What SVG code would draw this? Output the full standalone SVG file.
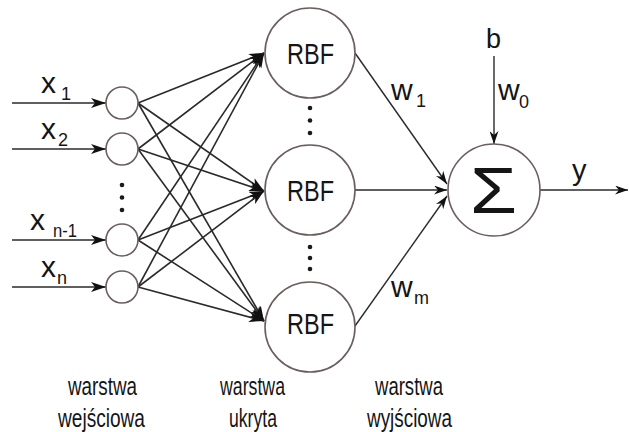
<svg xmlns="http://www.w3.org/2000/svg" width="629" height="432" viewBox="0 0 629 432">
  <style>
    .node { fill: #ffffff; stroke: #6a5e5e; stroke-width: 1.6; }
    .wire { stroke: #2a2a2a; stroke-width: 1.6; fill: none; }
    .lbl { font-family: "Liberation Sans", Arial, sans-serif; fill: #151515; }
    .dot { fill: #1a1a1a; }
  </style>
  <defs>
    <marker id="head" markerUnits="userSpaceOnUse" markerWidth="15" markerHeight="10" refX="15" refY="5" orient="auto">
      <path d="M0,0 L15,5 L0,10 L4,5 z" fill="#111"/>
    </marker>
    <marker id="headThin" markerUnits="userSpaceOnUse" markerWidth="13" markerHeight="9" refX="13" refY="4.5" orient="auto">
      <path d="M0,0 L13,4.5 L0,9 L4,4.5 z" fill="#111"/>
    </marker>
  </defs>

  <rect width="629" height="432" fill="#ffffff"/>

  <!-- connectors -->
  <g id="connectors" class="wire">
    <!-- inputs into the input layer -->
    <line x1="12" y1="103" x2="106" y2="103" marker-end="url(#head)"/>
    <line x1="12" y1="149" x2="106" y2="149" marker-end="url(#head)"/>
    <line x1="12" y1="240" x2="106" y2="240" marker-end="url(#head)"/>
    <line x1="12" y1="287" x2="106" y2="287" marker-end="url(#head)"/>
    <!-- input layer to hidden layer (full mesh) -->
    <line x1="138" y1="103" x2="264" y2="53" marker-end="url(#head)"/>
    <line x1="138" y1="103" x2="264" y2="191" marker-end="url(#head)"/>
    <line x1="138" y1="103" x2="264" y2="321" marker-end="url(#head)"/>
    <line x1="138" y1="149" x2="264" y2="53" marker-end="url(#head)"/>
    <line x1="138" y1="149" x2="264" y2="191" marker-end="url(#head)"/>
    <line x1="138" y1="149" x2="264" y2="321" marker-end="url(#head)"/>
    <line x1="138" y1="240" x2="264" y2="53" marker-end="url(#head)"/>
    <line x1="138" y1="240" x2="264" y2="191" marker-end="url(#head)"/>
    <line x1="138" y1="240" x2="264" y2="321" marker-end="url(#head)"/>
    <line x1="138" y1="287" x2="264" y2="53" marker-end="url(#head)"/>
    <line x1="138" y1="287" x2="264" y2="191" marker-end="url(#head)"/>
    <line x1="138" y1="287" x2="264" y2="321" marker-end="url(#head)"/>
    <!-- hidden layer to output sum -->
    <line x1="355" y1="53" x2="447" y2="184" stroke-width="1.4" marker-end="url(#headThin)"/>
    <line x1="355" y1="190" x2="447" y2="190" stroke-width="1.4" marker-end="url(#headThin)"/>
    <line x1="355" y1="326" x2="447" y2="196" stroke-width="1.4" marker-end="url(#headThin)"/>
    <!-- bias -->
    <line x1="494" y1="56" x2="494" y2="144" stroke-width="1.4" marker-end="url(#headThin)"/>
    <!-- output -->
    <line x1="540" y1="190" x2="628" y2="190" stroke-width="1.4" marker-end="url(#headThin)"/>
  </g>

  <!-- input layer -->
  <g id="in1"><circle class="node" cx="122" cy="103" r="16"/></g>
  <g id="in2"><circle class="node" cx="122" cy="149" r="16"/></g>
  <g id="in3"><circle class="node" cx="122" cy="240" r="16"/></g>
  <g id="in4"><circle class="node" cx="122" cy="287" r="16"/></g>
  <g id="in-dots">
    <circle class="dot" cx="122" cy="185" r="2.3"/>
    <circle class="dot" cx="122" cy="197.5" r="2.3"/>
    <circle class="dot" cx="122" cy="210" r="2.3"/>
  </g>

  <!-- input labels -->
  <g id="in-labels" class="lbl">
    <text x="41" y="93" font-size="30">x<tspan font-size="18" x="61" y="100">1</tspan></text>
    <text x="41" y="139" font-size="30">x<tspan font-size="18" x="58" y="146">2</tspan></text>
    <text x="30" y="230" font-size="30">x<tspan font-size="18" x="53" y="237" textLength="24" lengthAdjust="spacingAndGlyphs">n-1</tspan></text>
    <text x="41" y="277" font-size="30">x<tspan font-size="18" x="57" y="284">n</tspan></text>
  </g>

  <!-- hidden layer -->
  <g id="rbf1">
    <circle class="node" cx="310" cy="53" r="45"/>
    <text class="lbl" x="287" y="64" font-size="29" textLength="47" lengthAdjust="spacingAndGlyphs">RBF</text>
  </g>
  <g id="rbf2">
    <circle class="node" cx="310" cy="190" r="45"/>
    <text class="lbl" x="287" y="201" font-size="29" textLength="47" lengthAdjust="spacingAndGlyphs">RBF</text>
  </g>
  <g id="rbf3">
    <circle class="node" cx="310" cy="327" r="45"/>
    <text class="lbl" x="287" y="334" font-size="29" textLength="47" lengthAdjust="spacingAndGlyphs">RBF</text>
  </g>
  <g id="hidden-dots">
    <circle class="dot" cx="310" cy="108" r="2.3"/>
    <circle class="dot" cx="310" cy="120.5" r="2.3"/>
    <circle class="dot" cx="310" cy="133" r="2.3"/>
    <circle class="dot" cx="310" cy="247" r="2.3"/>
    <circle class="dot" cx="310" cy="258" r="2.3"/>
    <circle class="dot" cx="310" cy="269" r="2.3"/>
  </g>

  <!-- output sum -->
  <g id="sum">
    <circle class="node" cx="494" cy="190" r="46"/>
    <text class="lbl" x="470" y="213" font-size="64" textLength="47" lengthAdjust="spacingAndGlyphs">Σ</text>
  </g>

  <!-- weight, bias and output labels -->
  <g id="weights" class="lbl">
    <text x="391" y="100" font-size="30">w<tspan font-size="18" x="416" y="107">1</tspan></text>
    <text x="391" y="297" font-size="30">w<tspan font-size="18" x="414" y="304">m</tspan></text>
    <text x="498" y="100" font-size="30">w<tspan font-size="18" x="519" y="108">0</tspan></text>
    <text x="486" y="48" font-size="27">b</text>
    <text x="572" y="180" font-size="29">y</text>
  </g>

  <!-- layer captions -->
  <g id="captions" class="lbl" font-size="26">
    <text x="68" y="395" textLength="69" lengthAdjust="spacingAndGlyphs">warstwa</text>
    <text x="58" y="427" textLength="87" lengthAdjust="spacingAndGlyphs">wejściowa</text>
    <text x="220" y="395" textLength="65" lengthAdjust="spacingAndGlyphs">warstwa</text>
    <text x="229" y="427" textLength="48" lengthAdjust="spacingAndGlyphs">ukryta</text>
    <text x="375" y="395" textLength="68" lengthAdjust="spacingAndGlyphs">warstwa</text>
    <text x="367" y="427" textLength="85" lengthAdjust="spacingAndGlyphs">wyjściowa</text>
  </g>
</svg>
